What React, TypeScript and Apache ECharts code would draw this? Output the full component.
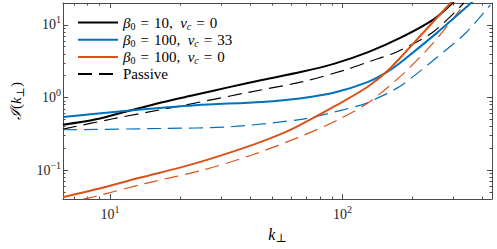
import React, { useEffect, useRef } from "react";
import * as echarts from "echarts";

// ---- Data ----
// β0 = 10, νc = 0 (black solid)
const kB10 = [6.28, 8.71, 12.2, 16.8, 23.3, 32.6, 45.1, 66.8, 92.5, 129, 179, 247, 292, 320];
const iB10 = [0.421, 0.501, 0.663, 0.861, 1.09, 1.39, 1.74, 2.26, 2.93, 4.21, 6.71, 11.9, 18.9, 26];
// Passive, β0 = 10 (black dashed)
const kP10 = [6.28, 10.3, 20.5, 40, 66.8, 102, 131, 170, 244, 333];
const iP10 = [0.367, 0.51, 0.775, 1.19, 1.64, 2.38, 3.14, 4.21, 7.85, 20];
// β0 = 100, νc = 33 (blue solid)
const kB100c = [6.28, 12.2, 23.3, 45.1, 66.8, 92.5, 129, 157, 179, 255, 344, 380];
const iB100c = [0.54, 0.663, 0.784, 0.871, 0.98, 1.17, 1.64, 2.29, 3.09, 7.76, 17.9, 24];
// Passive, β0 = 100, νc = 33 (blue dashed)
const kP100c = [6.28, 16.8, 32.6, 66.8, 78.9, 121, 136, 177, 250, 340, 433];
const iP100c = [0.36, 0.375, 0.395, 0.5, 0.56, 0.792, 0.925, 1.43, 3.4, 7.8, 18.9];
// β0 = 100, νc = 0 (orange solid)
const kB100 = [6.28, 8.71, 13.4, 23.3, 40.8, 56.5, 66.8, 92.7, 129, 159, 210, 292, 310];
const iB100 = [0.0425, 0.0545, 0.0785, 0.124, 0.221, 0.331, 0.43, 0.76, 1.42, 2.45, 6.37, 20, 24];
// Passive, β0 = 100, νc = 0 (orange dashed)
const kP100 = [6.28, 7.67, 8.71, 14.3, 25, 40.8, 66.8, 96.2, 129, 179, 247, 333];
const iP100 = [0.033, 0.0399, 0.0438, 0.066, 0.1, 0.162, 0.295, 0.497, 0.85, 2.0, 5.75, 18.9];

const xMajor = [10, 100];
const xMinor = [7, 8, 9, 20, 30, 40, 50, 60, 70, 80, 90, 200, 300, 400];
const yMajor = [0.1, 1, 10];
const yMinor = [0.05, 0.06, 0.07, 0.08, 0.09, 0.2, 0.3, 0.4, 0.5, 0.6, 0.7, 0.8, 0.9, 2, 3, 4, 5, 6, 7, 8, 9];

const legendNames = ["β0 = 10, νc = 0", "β0 = 100, νc = 33", "β0 = 100, νc = 0", "Passive"];
const legendRich: Record<string, string> = {
  "β0 = 10, νc = 0": "{g|β}{s|0}{t|\u2004=\u200410,\u2002}{g|ν}{si|c}{t|\u2004=\u20040}",
  "β0 = 100, νc = 33": "{g|β}{s|0}{t|\u2004=\u2004100,\u2002}{g|ν}{si|c}{t|\u2004=\u200433}",
  "β0 = 100, νc = 0": "{g|β}{s|0}{t|\u2004=\u2004100,\u2002}{g|ν}{si|c}{t|\u2004=\u20040}",
  Passive: "{t|Passive}",
};

const F = "'Liberation Serif', 'DejaVu Serif', serif";
const BLACK = "#000000";
const BLUE = "#0072BD";
const ORANGE = "#D95319";
const AXIS = "#4a4a4a";

const zip = (k: number[], v: number[]) => k.map((x, i) => [x, v[i]]);

const tickLabel = (v: number) => {
  const e = Math.round(Math.log10(v));
  return `{b|10}{e|${e < 0 ? "\u2212" + -e : e}}`;
};

const labelRich = {
  b: { fontFamily: F, fontSize: 14, lineHeight: 20, color: "#262626" },
  e: { fontFamily: F, fontSize: 10, lineHeight: 10, verticalAlign: "top", color: "#262626" },
};

export default function App() {
  const ref = useRef<HTMLDivElement>(null);
  useEffect(() => {
    if (!ref.current) return;
    const chart = echarts.init(ref.current, undefined, { renderer: "svg" });
    const xBase = { type: "log", logBase: 10, min: 6.2832, max: 440, gridIndex: 0, splitLine: { show: false } };
    const yBase = { type: "log", logBase: 10, min: 0.04, max: 20, gridIndex: 0, splitLine: { show: false } };
    const lineS = { show: true, lineStyle: { color: AXIS, width: 1 } };
    const majTick = (vals: number[]) => ({ show: true, inside: true, length: 5, customValues: vals, lineStyle: { color: AXIS, width: 1 } });
    const minTick = (vals: number[]) => ({ show: true, inside: true, length: 2.5, customValues: vals, lineStyle: { color: AXIS, width: 1 } });
    const solid = (name: string, data: number[][], color: string) => ({
      name, type: "line", data, color, symbol: "none", showSymbol: false, smooth: 0.3,
      lineStyle: { color, width: 2 }, z: 3, xAxisIndex: 0, yAxisIndex: 0,
    });
    const dashed = (name: string, data: number[][], color: string) => ({
      name, type: "line", data, color, symbol: "none", showSymbol: false, smooth: 0.3,
      lineStyle: { color, width: 1.2, type: [14, 7] }, z: 2, xAxisIndex: 0, yAxisIndex: 0,
    });
    chart.setOption({
      animation: false,
      backgroundColor: "#ffffff",
      grid: { left: 60, right: 5, top: 3, bottom: 47, containLabel: false },
      legend: {
        data: legendNames,
        orient: "vertical",
        left: 77,
        top: 15,
        padding: 0,
        itemWidth: 40,
        itemHeight: 14,
        itemGap: 0.7,
        selectedMode: false,
        itemStyle: { opacity: 0 },
        formatter: (n: string) => legendRich[n] || n,
        textStyle: {
          color: BLACK,
          fontFamily: F,
          fontSize: 15,
          rich: {
            t: { fontFamily: F, fontSize: 15, lineHeight: 18, color: BLACK },
            g: { fontFamily: F, fontSize: 15, lineHeight: 18, fontStyle: "italic", color: BLACK },
            s: { fontFamily: F, fontSize: 10, lineHeight: 10, verticalAlign: "bottom", color: BLACK },
            si: { fontFamily: F, fontSize: 10, lineHeight: 10, verticalAlign: "bottom", fontStyle: "italic", color: BLACK },
          },
        },
      },
      xAxis: [
        {
          ...xBase, position: "bottom", axisLine: lineS, axisTick: majTick(xMajor),
          axisLabel: { customValues: xMajor, formatter: tickLabel, margin: 5, rich: labelRich },
          name: "{i|k}{s|\u22a5}", nameLocation: "middle", nameGap: 24,
          nameTextStyle: {
            rich: {
              i: { fontFamily: F, fontSize: 16, lineHeight: 20, fontStyle: "italic", color: BLACK },
              s: { fontFamily: F, fontSize: 12, lineHeight: 12, verticalAlign: "bottom", color: BLACK },
            },
          },
        },
        { ...xBase, position: "bottom", axisLine: { show: false }, axisTick: minTick(xMinor), axisLabel: { show: false } },
        { ...xBase, position: "top", axisLine: lineS, axisTick: majTick(xMajor), axisLabel: { show: false } },
        { ...xBase, position: "top", axisLine: { show: false }, axisTick: minTick(xMinor), axisLabel: { show: false } },
      ],
      yAxis: [
        {
          ...yBase, position: "left", axisLine: lineS, axisTick: majTick(yMajor),
          axisLabel: { customValues: yMajor, formatter: tickLabel, margin: 2, rich: labelRich },
          name: "{c|\u2110}{p|(}{i|k}{s|\u22a5}{p|)}", nameLocation: "middle", nameGap: 36, nameRotate: 90,
          nameTextStyle: {
            rich: {
              c: { fontFamily: "'DejaVu Serif', serif", fontSize: 15, lineHeight: 20, fontStyle: "italic", color: BLACK },
              p: { fontFamily: F, fontSize: 15, lineHeight: 20, color: BLACK },
              i: { fontFamily: F, fontSize: 15, lineHeight: 20, fontStyle: "italic", color: BLACK },
              s: { fontFamily: F, fontSize: 11, lineHeight: 11, verticalAlign: "bottom", color: BLACK },
            },
          },
        },
        { ...yBase, position: "left", axisLine: { show: false }, axisTick: minTick(yMinor), axisLabel: { show: false } },
        { ...yBase, position: "right", axisLine: lineS, axisTick: majTick(yMajor), axisLabel: { show: false } },
        { ...yBase, position: "right", axisLine: { show: false }, axisTick: minTick(yMinor), axisLabel: { show: false } },
      ],
      series: [
        solid("β0 = 10, νc = 0", zip(kB10, iB10), BLACK),
        solid("β0 = 100, νc = 33", zip(kB100c, iB100c), BLUE),
        solid("β0 = 100, νc = 0", zip(kB100, iB100), ORANGE),
        dashed("Passive", zip(kP10, iP10), BLACK),
        dashed("Passive (β0 = 100, νc = 33)", zip(kP100c, iP100c), BLUE),
        dashed("Passive (β0 = 100, νc = 0)", zip(kP100, iP100), ORANGE),
      ],
    });
    return () => chart.dispose();
  }, []);
  return <div ref={ref} style={{ position: "fixed", left: 0, top: 0, width: 497, height: 249, background: "#fff" }} />;
}
